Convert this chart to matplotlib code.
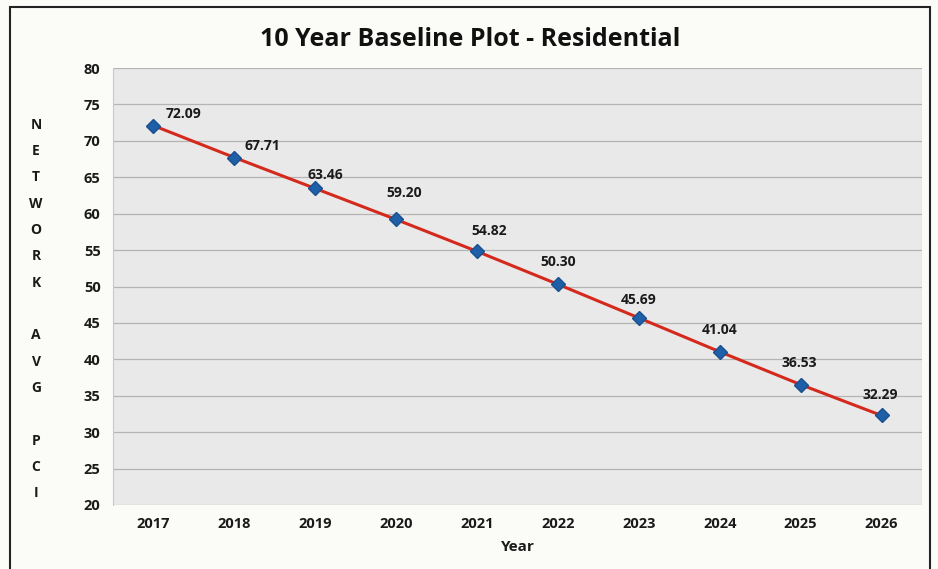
import matplotlib
matplotlib.use("Agg")
import matplotlib.pyplot as plt
from matplotlib.patches import Rectangle

years = ["2017", "2018", "2019", "2020", "2021", "2022", "2023", "2024", "2025", "2026"]
values = [72.09, 67.71, 63.46, 59.20, 54.82, 50.30, 45.69, 41.04, 36.53, 32.29]
yticks = [20, 25, 30, 35, 40, 45, 50, 55, 60, 65, 70, 75, 80]

# label placement (pixel offsets of label centre from its point), layout only
label_dx = [30, 28, 10, 8, 12, 0, 0, 0, -1, -1]
label_dy = [12, 12, 13, 26, 20, 22, 18, 22, 22, 20]

plt.rcParams['font.family'] = ['Open Sans', 'DejaVu Sans']

W, H = 938, 569
fig = plt.figure(figsize=(W/100, H/100), dpi=100)
fig.patch.set_facecolor('#fbfbf7')

# outer frame
fig.add_artist(Rectangle((10/W, -0.01), (930-10)/W, 1 - 7/H + 0.01, transform=fig.transFigure,
                         fill=False, edgecolor='#222222', linewidth=1.5))

ax = fig.add_axes([113/W, 1-505/H, (922-113)/W, (505-68)/H])
ax.set_facecolor('#e9e9e9')
x = list(range(len(years)))
ax.plot(x, values, color='#d42a1e', linewidth=2.2, zorder=3)
ax.plot(x, values, linestyle='none', marker='D', markersize=7, color='#1f5fa8',
        markeredgecolor='#1a4f90', zorder=4)
for xi, v, dx, dy in zip(x, values, label_dx, label_dy):
    ax.annotate(f"{v:.2f}", (xi, v), xytext=(dx * 0.72, dy * 0.72), textcoords='offset points',
                ha='center', va='center', fontsize=10, fontweight='bold', color='#1a1a1a')

ax.set_xlim(-0.5, len(years) - 0.5)
ax.set_ylim(20, 80)
ax.set_yticks(yticks)
ax.set_xticks(x)
ax.set_xticklabels(years)
ax.grid(axis='y', color='#b4b4b4', linewidth=0.9)
ax.set_axisbelow(True)
for s in ['top', 'right', 'bottom']:
    ax.spines[s].set_visible(False)
ax.spines['left'].set_color('#c8c8c8')
ax.tick_params(axis='both', length=0, labelsize=10.5)
ax.tick_params(axis='y', pad=9)
ax.tick_params(axis='x', pad=9)
for lab in ax.get_xticklabels() + ax.get_yticklabels():
    lab.set_fontweight('bold')
    lab.set_color('#1a1a1a')

ax.set_xlabel("Year", fontsize=11, fontweight='bold', color='#1a1a1a', labelpad=6)

fig.text(470/W, 1-40/H, "10 Year Baseline Plot - Residential", ha='center', va='center',
         fontsize=18, fontweight='bold', color='#111111')

ylabel = "N\nE\nT\nW\nO\nR\nK\n\nA\nV\nG\n\nP\nC\nI"
fig.text(36/W, 1-309/H, ylabel, ha='center', va='center', fontsize=10, fontweight='bold',
         color='#1a1a1a', linespacing=2.12)

fig.savefig("out.png", dpi=100, facecolor=fig.get_facecolor())
